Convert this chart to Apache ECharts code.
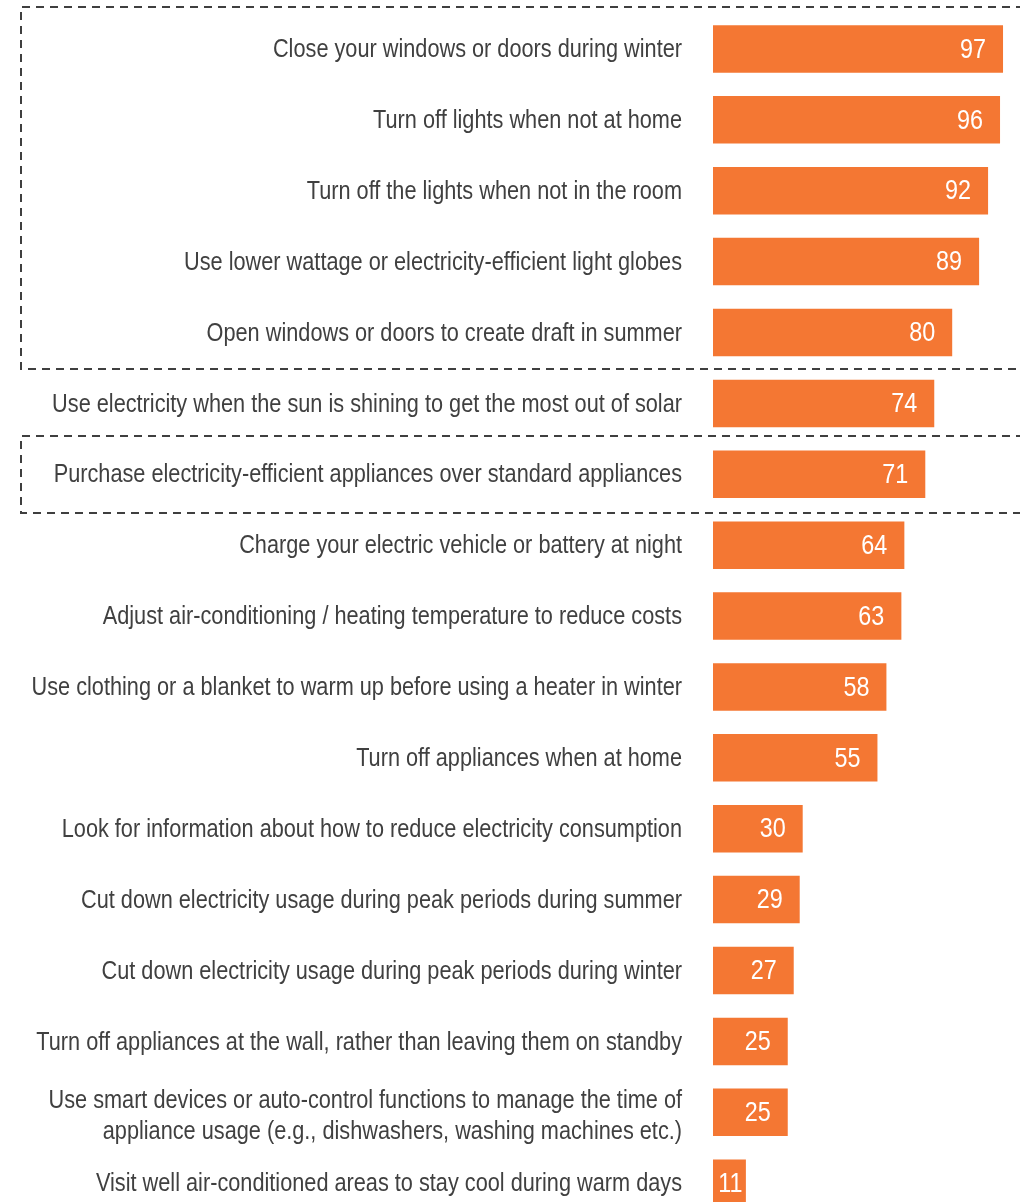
<!DOCTYPE html>
<html>
<head>
<meta charset="utf-8">
<style>
  html, body { margin: 0; padding: 0; background: #ffffff; }
  #chart { width: 1020px; height: 1202px; }
</style>
<script src="https://cdn.jsdelivr.net/npm/echarts@6/dist/echarts.min.js"></script>
</head>
<body>
<div id="chart"></div>
<script>
// Energy-saving behaviours, share of respondents (%)
const categories = [
  'Close your windows or doors during winter',
  'Turn off lights when not at home',
  'Turn off the lights when not in the room',
  'Use lower wattage or electricity-efficient light globes',
  'Open windows or doors to create draft in summer',
  'Use electricity when the sun is shining to get the most out of solar',
  'Purchase electricity-efficient appliances over standard appliances',
  'Charge your electric vehicle or battery at night',
  'Adjust air-conditioning / heating temperature to reduce costs',
  'Use clothing or a blanket to warm up before using a heater in winter',
  'Turn off appliances when at home',
  'Look for information about how to reduce electricity consumption',
  'Cut down electricity usage during peak periods during summer',
  'Cut down electricity usage during peak periods during winter',
  'Turn off appliances at the wall, rather than leaving them on standby',
  'Use smart devices or auto-control functions to manage the time of\nappliance usage (e.g., dishwashers, washing machines etc.)',
  'Visit well air-conditioned areas to stay cool during warm days'
];
const values = [97, 96, 92, 89, 80, 74, 71, 64, 63, 58, 55, 30, 29, 27, 25, 25, 11];

// Groups of rows outlined with a dashed frame (first and last row index)
const framedGroups = [[0, 4], [6, 6]];

const FONT = "'Liberation Sans', Arial, Helvetica, sans-serif";
const NARROW = 0.835;          // horizontal squeeze giving a condensed face
const ORANGE = '#F47733';
const TEXT = '#404040';
const DASH = '#3f3f3f';

const chart = echarts.init(document.getElementById('chart'), null, { renderer: 'canvas' });

const rowIndex = categories.map(function (_, i) { return i; });

// Category captions, right-aligned against the bar baseline
function renderCaption(params, api) {
  const idx = api.value(1);
  const p = api.coord([0, idx]);
  const multi = categories[idx].indexOf('\n') >= 0;
  return {
    type: 'text',
    x: p[0] - 31,
    y: p[1] + (multi ? 4 : 1),
    scaleX: NARROW,
    silent: true,
    style: {
      text: categories[idx],
      fill: TEXT,
      fontFamily: FONT,
      fontSize: 26,
      lineHeight: 31,
      align: 'right',
      verticalAlign: 'middle'
    }
  };
}

// Value captions inside the end of each bar (centred when the bar is short)
function renderValue(params, api) {
  const v = api.value(0);
  const idx = api.value(1);
  const end = api.coord([v, idx]);
  const start = api.coord([0, idx]);
  const short = v < 20;
  return {
    type: 'text',
    x: short ? (start[0] + end[0]) / 2 + 1 : end[0] - 17,
    y: end[1] + 1,
    scaleX: NARROW,
    silent: true,
    style: {
      text: String(v),
      fill: '#ffffff',
      fontFamily: FONT,
      fontSize: 28,
      align: short ? 'center' : 'right',
      verticalAlign: 'middle'
    }
  };
}

chart.setOption({
  animation: false,
  backgroundColor: '#ffffff',
  grid: { left: 713, right: 8, top: 13.5, bottom: -16.6, containLabel: false, outerBoundsMode: 'none' },
  xAxis: {
    type: 'value',
    min: 0,
    max: 100,
    show: false
  },
  yAxis: {
    type: 'category',
    inverse: true,
    data: categories,
    axisLine: { show: false },
    axisTick: { show: false },
    splitLine: { show: false },
    axisLabel: { show: false }
  },
  series: [
    {
      type: 'bar',
      data: values,
      barWidth: '67%',
      itemStyle: { color: ORANGE }
    },
    {
      type: 'custom',
      z: 5,
      clip: false,
      renderItem: renderCaption,
      encode: { x: 0, y: 1 },
      data: rowIndex.map(function (i) { return [0, i]; })
    },
    {
      type: 'custom',
      z: 6,
      clip: false,
      renderItem: renderValue,
      encode: { x: 0, y: 1 },
      data: values.map(function (v, i) { return [v, i]; })
    }
  ]
});

// Dashed frames around grouped rows, drawn from the category band edges
function drawFrames() {
  const grid = chart.getModel().getComponent('grid').coordinateSystem.getRect();
  const band = grid.height / categories.length;
  const pads = [[6.5, 1], [3, 3]];
  const elements = framedGroups.map(function (g, i) {
    const top = Math.round(grid.y + g[0] * band - pads[i][0]);
    const bottom = Math.round(grid.y + (g[1] + 1) * band + pads[i][1]);
    const left = 21;
    return {
      type: 'polyline',
      silent: true,
      shape: { points: [[1024, top], [left, top], [left, bottom], [1024, bottom]] },
      style: { fill: null, stroke: DASH, lineWidth: 2, lineDash: [8, 6] }
    };
  });
  chart.setOption({ graphic: elements });
}
drawFrames();
</script>
</body>
</html>
